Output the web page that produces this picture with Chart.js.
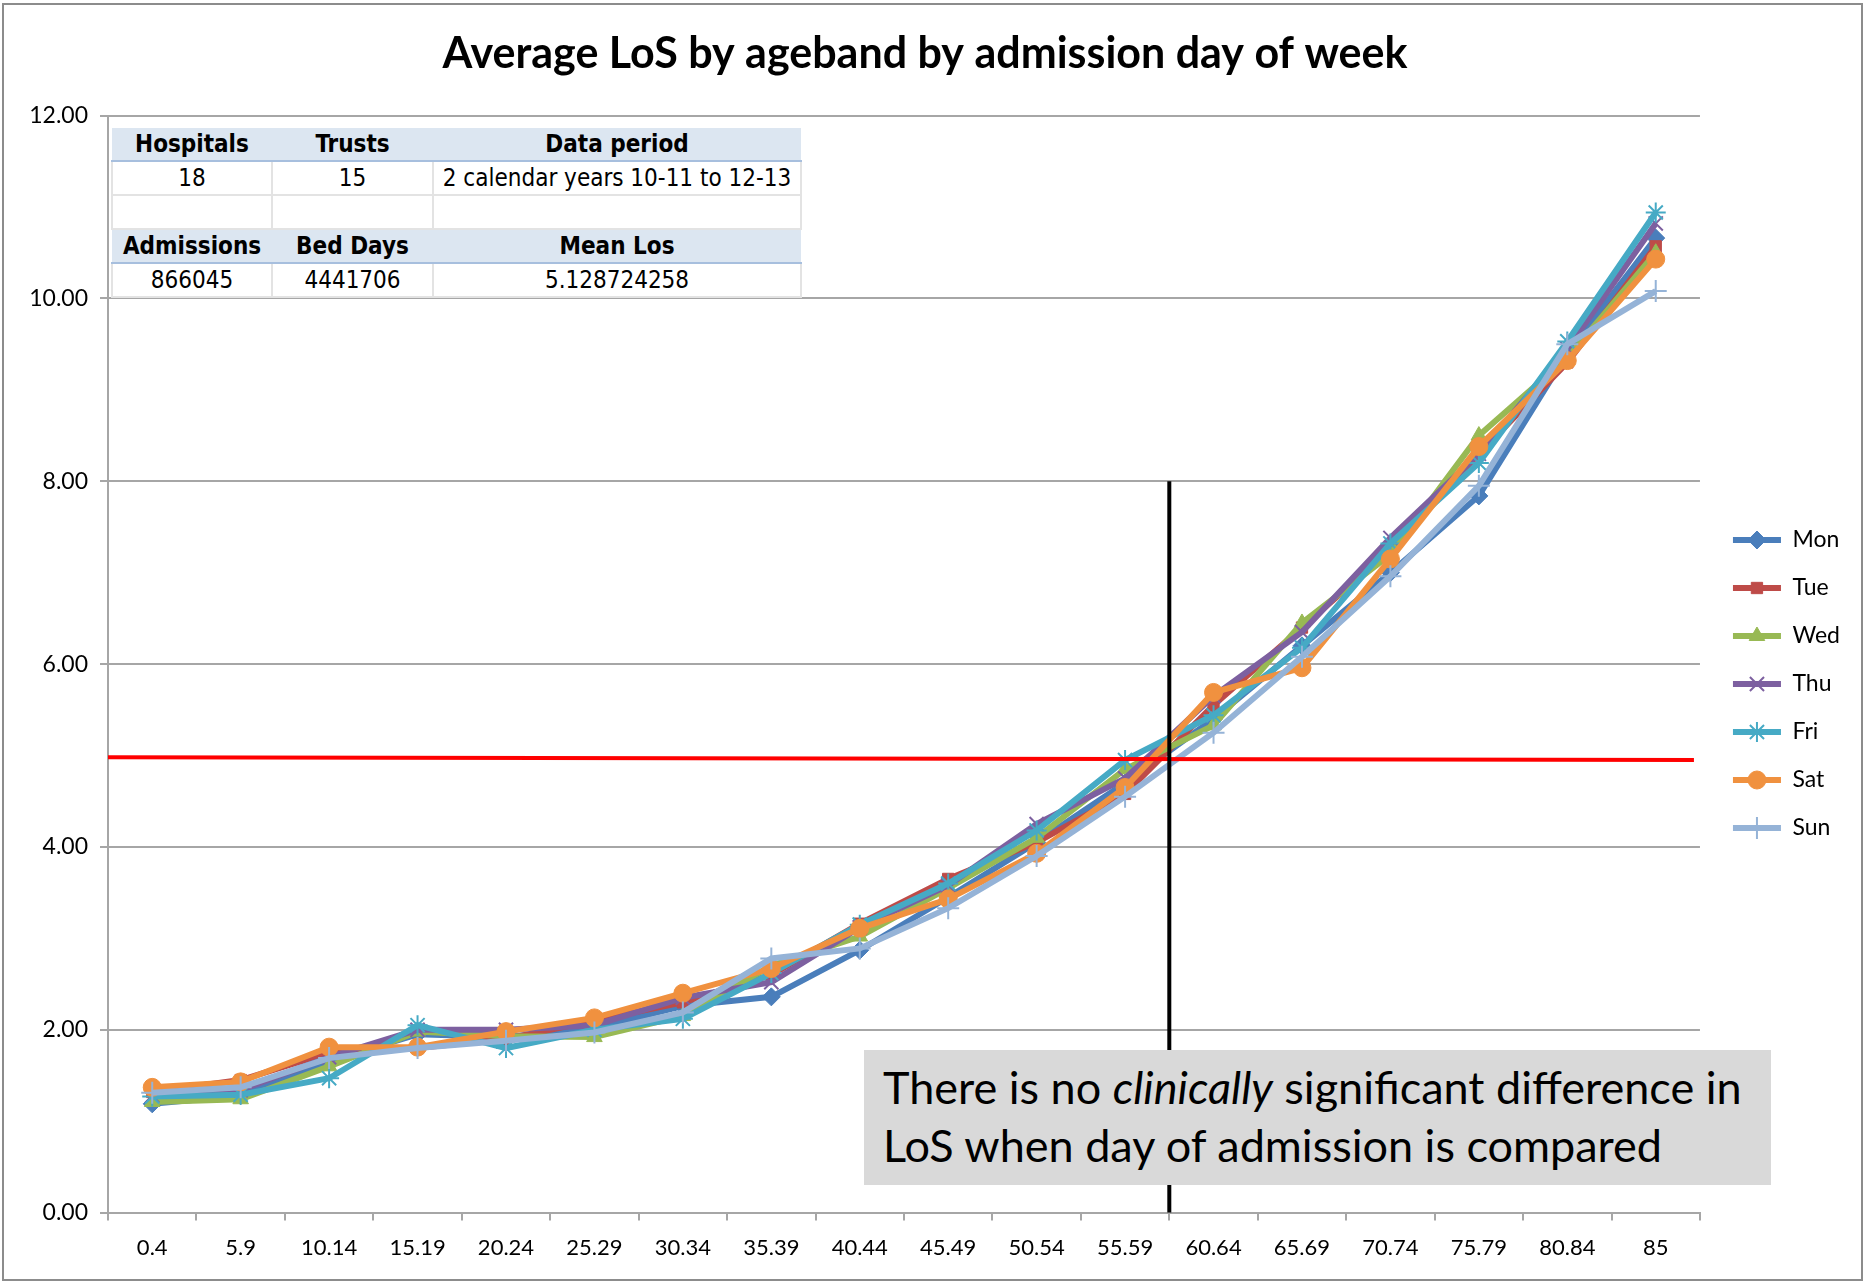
<!DOCTYPE html>
<html>
<head>
<meta charset="utf-8">
<script src="https://cdn.jsdelivr.net/npm/chart.js@4.4.1/dist/chart.umd.min.js"></script>
<style>
  html, body { margin: 0; padding: 0; background: #fff; }
  #wrap { position: relative; width: 1864px; height: 1283px; overflow: hidden; }
  #c { position: absolute; left: 0; top: 0; }
  .frame { position: absolute; left: 2px; top: 3px; width: 1857px; height: 1274px; border: 2px solid #8c8c8c; pointer-events: none; }
  table.info { position: absolute; left: 111px; top: 128px; border-collapse: collapse; background: #fff;
    font-family: "Liberation Sans Narrow", "Arial Narrow", "DejaVu Sans Condensed", sans-serif; font-size: 24px; color: #000; }
  table.info td { padding: 0; text-align: center; height: 32px; line-height: 32px; white-space: nowrap; }
  table.info tr.hd td { background: #dce6f1; font-weight: bold; border-bottom: 2px solid #a7bfde; }
  table.info tr.bd td { border-right: 2px solid #e3e3e3; border-bottom: 2px solid #e3e3e3; }
  table.info tr.bd td:first-child { border-left: 2px solid #e3e3e3; }
  .note { position: absolute; left: 864px; top: 1050px; width: 907px; height: 135px; background: #d9d9d9;
    font-family: Lato, "Open Sans", sans-serif; font-size: 45px; line-height: 58px; color: #000;
    box-sizing: border-box; padding: 8px 0 0 19px; white-space: nowrap; }
</style>
</head>
<body>
<div id="wrap">
  <canvas id="c" width="1864" height="1283"></canvas>
  <table class="info">
    <colgroup><col style="width:160px"><col style="width:161px"><col style="width:368px"></colgroup>
    <tr class="hd"><td>Hospitals</td><td>Trusts</td><td>Data period</td></tr>
    <tr class="bd"><td>18</td><td>15</td><td>2 calendar years 10-11 to 12-13</td></tr>
    <tr class="bd"><td>&nbsp;</td><td>&nbsp;</td><td>&nbsp;</td></tr>
    <tr class="hd"><td>Admissions</td><td>Bed Days</td><td>Mean Los</td></tr>
    <tr class="bd"><td>866045</td><td>4441706</td><td>5.128724258</td></tr>
  </table>
  <div class="note">There is no <i>clinically</i> significant difference in<br>LoS when day of admission is compared</div>
  <div class="frame"></div>
</div>
<script>
// ---- data ----
const ageBands = ['0.4','5.9','10.14','15.19','20.24','25.29','30.34','35.39','40.44','45.49','50.54','55.59','60.64','65.69','70.74','75.79','80.84','85'];
const seriesNames = ['Mon','Tue','Wed','Thu','Fri','Sat','Sun'];
const monLoS = [1.19, 1.28, 1.66, 1.95, 1.92, 2.02, 2.26, 2.36, 2.87, 3.45, 4.05, 4.70, 5.40, 6.20, 7.00, 7.84, 9.40, 10.66];
const tueLoS = [1.32, 1.45, 1.75, 1.80, 1.90, 2.10, 2.30, 2.60, 3.16, 3.65, 4.05, 4.58, 5.55, 6.40, 7.25, 8.30, 9.30, 10.57];
const wedLoS = [1.21, 1.24, 1.60, 1.98, 1.93, 1.92, 2.15, 2.70, 3.02, 3.55, 4.10, 4.85, 5.33, 6.45, 7.20, 8.50, 9.35, 10.50];
const thuLoS = [1.28, 1.34, 1.70, 2.00, 2.00, 2.05, 2.35, 2.52, 3.12, 3.58, 4.25, 4.75, 5.65, 6.35, 7.38, 8.30, 9.45, 10.82];
const friLoS = [1.27, 1.29, 1.47, 2.05, 1.80, 2.00, 2.12, 2.62, 3.15, 3.60, 4.18, 4.95, 5.44, 6.18, 7.32, 8.20, 9.53, 10.94];
const satLoS = [1.37, 1.43, 1.81, 1.81, 1.98, 2.13, 2.40, 2.67, 3.11, 3.43, 3.93, 4.65, 5.69, 5.96, 7.15, 8.38, 9.32, 10.43];
const sunLoS = [1.31, 1.37, 1.69, 1.80, 1.88, 1.97, 2.19, 2.78, 2.89, 3.33, 3.90, 4.55, 5.25, 6.08, 6.96, 7.95, 9.50, 10.08];
const yTicks = [0, 2, 4, 6, 8, 10, 12];
// reference lines
const meanLineStart = 4.98, meanLineEnd = 4.95;   // red horizontal line (LoS)
const splitIndex = 11.5;                          // black vertical line between 55.59 and 60.64
const splitTop = 8;                               // its top value

const seriesValues = [monLoS, tueLoS, wedLoS, thuLoS, friLoS, satLoS, sunLoS];
const seriesColors = ['#4a7ebb', '#be4b48', '#98b954', '#7d60a0', '#46aac5', '#f0913f', '#95b3d7'];
const seriesMarkers = ['rectRot', 'rect', 'triangle', 'crossRot', 'star', 'circle', 'cross'];
const markerRadius = [9, 8, 9, 10, 10, 9, 11];
const markerBorder = [1, 1, 1, 2, 2, 1, 2];

const datasets = seriesNames.map((name, i) => ({
  label: name,
  data: seriesValues[i],
  borderColor: seriesColors[i],
  backgroundColor: seriesColors[i],
  borderWidth: 6,
  pointStyle: seriesMarkers[i],
  pointRadius: markerRadius[i],
  pointBackgroundColor: seriesColors[i],
  pointBorderColor: seriesColors[i],
  pointBorderWidth: markerBorder[i],
  tension: 0,
  order: seriesNames.length - i
}));

const refLines = {
  id: 'refLines',
  afterDatasetsDraw(chart) {
    const {ctx, chartArea} = chart;
    const x = chart.scales.x, y = chart.scales.y;
    ctx.save();
    ctx.strokeStyle = '#ff0000';
    ctx.lineWidth = 4;
    ctx.beginPath();
    ctx.moveTo(chartArea.left, y.getPixelForValue(meanLineStart));
    ctx.lineTo(chartArea.right - 6, y.getPixelForValue(meanLineEnd));
    ctx.stroke();
    const xs = x.getPixelForValue(splitIndex);
    ctx.strokeStyle = '#000';
    ctx.lineWidth = 4;
    ctx.beginPath();
    ctx.moveTo(xs, y.getPixelForValue(splitTop));
    ctx.lineTo(xs, y.getPixelForValue(0));
    ctx.stroke();
    ctx.restore();
  }
};

const LEG_BOX_W = 48, LEG_FONT = 23;
const legendMarkers = {
  id: 'legendMarkers',
  afterDraw(chart) {
    const lg = chart.legend;
    if (!lg || !lg.legendHitBoxes || !lg.legendItems) return;
    const ctx = chart.ctx;
    lg.legendItems.forEach((item, i) => {
      const hb = lg.legendHitBoxes[i];
      const ds = chart.data.datasets[item.datasetIndex];
      const cx = hb.left + LEG_BOX_W / 2;
      const cy = hb.top + hb.height / 2;
      ctx.save();
      ctx.fillStyle = ds.pointBackgroundColor;
      ctx.strokeStyle = ds.pointBorderColor;
      ctx.lineWidth = ds.pointBorderWidth;
      Chart.helpers.drawPoint(ctx, {pointStyle: ds.pointStyle, radius: ds.pointRadius, rotation: 0, borderWidth: ds.pointBorderWidth}, cx, cy);
      ctx.restore();
    });
  }
};

Chart.defaults.font.family = 'Lato, "Open Sans", sans-serif';
Chart.defaults.color = '#000';

new Chart(document.getElementById('c'), {
  type: 'line',
  data: { labels: ageBands, datasets: datasets },
  plugins: [refLines, legendMarkers],
  options: {
    responsive: false,
    devicePixelRatio: 1,
    animation: false,
    layout: { padding: { left: 0, right: 14, top: 13, bottom: 8 } },
    plugins: {
      title: {
        display: true,
        text: 'Average LoS by ageband by admission day of week',
        font: { size: 43, weight: 'bold', family: 'Lato, "Open Sans", sans-serif' },
        color: '#000',
        padding: { top: 15, bottom: 36 }
      },
      legend: {
        position: 'right',
        reverse: true,
        title: { display: true, text: '', font: { size: 10 }, padding: { top: 68, bottom: 0 } },
        labels: {
          boxWidth: LEG_BOX_W,
          boxHeight: 6,
          padding: 25,
          font: { size: LEG_FONT },
          color: '#000',
          generateLabels(chart) {
            const items = Chart.defaults.plugins.legend.labels.generateLabels(chart);
            items.forEach(it => { it.lineWidth = 0; it.fillStyle = seriesColors[it.datasetIndex]; it.strokeStyle = seriesColors[it.datasetIndex]; });
            return items;
          }
        }
      },
      tooltip: { enabled: false }
    },
    scales: {
      x: {
        offset: true,
        grid: { drawOnChartArea: false, drawTicks: true, tickLength: 8, color: '#a6a6a6', lineWidth: 2, offset: true },
        border: { color: '#a6a6a6', width: 2 },
        ticks: { font: { size: 22 }, color: '#000', padding: 14, maxRotation: 0, autoSkip: false }
      },
      y: {
        min: 0, max: 12,
        afterFit(scale) { scale.width = 108; },
        afterBuildTicks(scale) { scale.ticks = yTicks.map(v => ({ value: v })); },
        grid: { color: '#a6a6a6', lineWidth: 2, tickLength: 8, drawTicks: true },
        border: { color: '#a6a6a6', width: 2 },
        ticks: { font: { size: 23 }, color: '#000', padding: 12, callback: v => Number(v).toFixed(2) }
      },
      gap: {
        type: 'linear',
        position: 'right',
        display: true,
        afterFit(scale) { scale.width = 8; },
        grid: { display: false, drawTicks: false },
        border: { display: false },
        ticks: { display: false }
      }
    }
  }
});
</script>
</body>
</html>
